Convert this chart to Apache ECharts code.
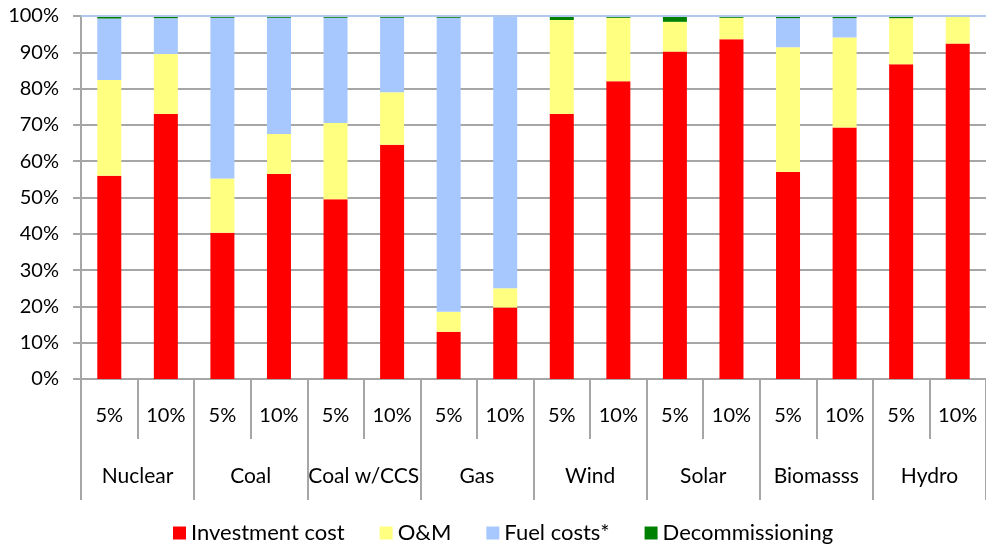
<!DOCTYPE html>
<html>
<head>
<meta charset="utf-8">
<script src="https://cdn.jsdelivr.net/npm/echarts@6/dist/echarts.min.js"></script>
<style>html,body{margin:0;padding:0;background:#fff;}#c{width:986px;height:545px;}</style>
</head>
<body>
<div id="c"></div>
<script>
const rates = ['5%','10%','5%','10%','5%','10%','5%','10%','5%','10%','5%','10%','5%','10%','5%','10%'];
const groups = ['Nuclear','Coal','Coal w/CCS','Gas','Wind','Solar','Biomasss','Hydro'];
const yTicks = [0,10,20,30,40,50,60,70,80,90,100];
const investment = [56, 73, 40.3, 56.5, 49.5, 64.5, 13, 19.7, 73, 82, 90.2, 93.6, 57, 69.3, 86.7, 92.4];
const om = [26.4, 16.5, 14.9, 11, 21, 14.5, 5.5, 5.3, 25.9, 17.5, 8.2, 5.9, 34.4, 24.8, 12.7, 7.6];
const fuel = [16.9, 9.9, 44.3, 32, 29, 20.5, 81, 75, 0, 0, 0, 0, 8, 5.3, 0, 0];
const decom = [0.7, 0.6, 0.5, 0.5, 0.5, 0.5, 0.5, 0, 1.1, 0.5, 1.6, 0.5, 0.6, 0.6, 0.6, 0];

const FONT = 'Lato';
const gray = '#a6a6a6';
const chart = echarts.init(document.getElementById('c'));
function bar(name, data, color, extra) {
  return Object.assign({
    name: name, type: 'bar', stack: 'total', data: data, barWidth: 24,
    itemStyle: { color: color }, xAxisIndex: 0
  }, extra || {});
}
chart.setOption({
  animation: false,
  grid: { left: 81, right: 0, top: 16, bottom: 166, containLabel: false, outerBoundsMode: 'none' },
  legend: {
    left: 168, top: 517, itemWidth: 13, itemHeight: 13, itemGap: 35,
    icon: 'rect',
    textStyle: { fontFamily: FONT, fontSize: 22, color: '#000' },
    data: ['Investment cost', 'O&M', 'Fuel costs*', 'Decommissioning']
  },
  xAxis: [
    {
      type: 'category', data: rates, position: 'bottom', boundaryGap: true,
      axisLine: { show: true, onZero: false, lineStyle: { color: gray, width: 2 } },
      axisTick: { show: true, length: 60, interval: 0, alignWithLabel: false, lineStyle: { color: gray, width: 2 } },
      axisLabel: { show: true, margin: 27, interval: 0, fontFamily: FONT, fontSize: 20, color: '#000' }
    },
    {
      type: 'category', data: groups, position: 'bottom', gridIndex: 0, boundaryGap: true,
      axisLine: { show: true, onZero: false, lineStyle: { color: gray, width: 2 } },
      axisTick: { show: true, length: 121, interval: 0, alignWithLabel: false, lineStyle: { color: gray, width: 2 } },
      axisLabel: { show: true, margin: 87, interval: 0, fontFamily: FONT, fontSize: 21, color: '#000' }
    }
  ],
  yAxis: {
    type: 'value', min: 0, max: 100, interval: 10,
    axisLine: { show: true, onZero: false, lineStyle: { color: gray, width: 2 } },
    axisTick: { show: true, length: 8, lineStyle: { color: gray, width: 2 } },
    axisLabel: { margin: 22, formatter: '{value}%', fontFamily: FONT, fontSize: 20, color: '#000' },
    splitLine: { show: true, lineStyle: { color: gray, width: 2 } }
  },
  series: [
    bar('Investment cost', investment, '#ff0000'),
    bar('O&M', om, '#ffff80'),
    bar('Fuel costs*', fuel, '#a6c8ff'),
    bar('Decommissioning', decom, '#008000', {
      markLine: {
        silent: true, symbol: 'none', label: { show: false },
        lineStyle: { color: '#b0c8f0', width: 2, type: 'solid' },
        data: [{ yAxis: yTicks[yTicks.length - 1] }]
      }
    })
  ]
});
</script>
</body>
</html>
